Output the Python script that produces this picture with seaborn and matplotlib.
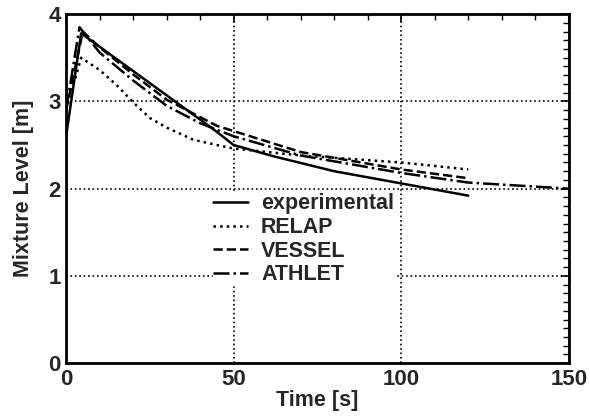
import numpy as np
import pandas as pd
import matplotlib
matplotlib.use("Agg")
import matplotlib.pyplot as plt
import seaborn as sns
from matplotlib.ticker import MultipleLocator

# Data
exp_t = [0, 4.5, 44, 50, 62, 80, 100, 120]
exp_v = [2.6, 3.78, 2.68, 2.5, 2.37, 2.2, 2.06, 1.92]

relap_t = [0, 4.5, 10, 15, 20, 25, 30, 38, 45, 50, 70, 100, 120]
relap_v = [2.9, 3.5, 3.36, 3.19, 2.99, 2.81, 2.7, 2.56, 2.5, 2.46, 2.38, 2.3, 2.22]

vessel_t = [0, 5, 10, 20, 30, 45, 50, 70, 100, 120]
vessel_v = [2.9, 3.8, 3.62, 3.31, 3.02, 2.72, 2.66, 2.42, 2.22, 2.12]

athlet_t = [0, 4, 10, 20, 30, 40, 50, 70, 100, 120, 150]
athlet_v = [2.9, 3.85, 3.56, 3.24, 2.95, 2.75, 2.6, 2.38, 2.18, 2.07, 2.0]

labels = ["experimental", "RELAP", "VESSEL", "ATHLET"]

sns.set_theme(style="white")
plt.rcParams['font.family'] = ['Liberation Sans', 'DejaVu Sans']

fig = plt.figure(figsize=(5.9, 4.16), dpi=100)
ax = fig.add_axes([0.112, 0.127, 0.852, 0.839])

series = [(exp_t, exp_v, '-'), (relap_t, relap_v, ':'),
          (vessel_t, vessel_v, '--'), (athlet_t, athlet_v, '-.')]
for (t, v, ls), lab in zip(series, labels):
    df = pd.DataFrame({"t": t, "v": v})
    sns.lineplot(data=df, x="t", y="v", ax=ax, color="black", lw=1.8,
                 linestyle=ls, label=lab, sort=False)

ax.set_xlim(0, 150)
ax.set_ylim(0, 4.0)
ax.xaxis.set_major_locator(MultipleLocator(50))
ax.xaxis.set_minor_locator(MultipleLocator(10))
ax.yaxis.set_major_locator(MultipleLocator(1))
ax.yaxis.set_minor_locator(MultipleLocator(0.1))
ax.tick_params(which='both', direction='in', top=True, right=True, color='black')
ax.tick_params(which='major', length=6, width=1.2, labelsize=16, pad=4)
ax.tick_params(which='minor', length=4, width=1)
for lbl in ax.get_xticklabels() + ax.get_yticklabels():
    lbl.set_fontweight('bold')
ax.grid(True, which='major', color='black', linestyle=':', lw=1.2)
for s in ax.spines.values():
    s.set_color('black')
    s.set_linewidth(2)
ax.set_xlabel("Time [s]", fontsize=15.5, fontweight='bold', labelpad=0)
ax.set_ylabel("Mixture Level [m]", fontsize=15.5, fontweight='bold', labelpad=10)

leg = ax.legend(loc='upper left', bbox_to_anchor=(0.27, 0.517), frameon=True,
                prop={'size': 15.5, 'weight': 'bold'}, handlelength=1.65,
                handletextpad=0.6, labelspacing=0.12, borderpad=0.0)
leg.get_frame().set_facecolor('white')
leg.get_frame().set_edgecolor('white')
leg.get_frame().set_alpha(1)

fig.savefig("out.png", dpi=100)
